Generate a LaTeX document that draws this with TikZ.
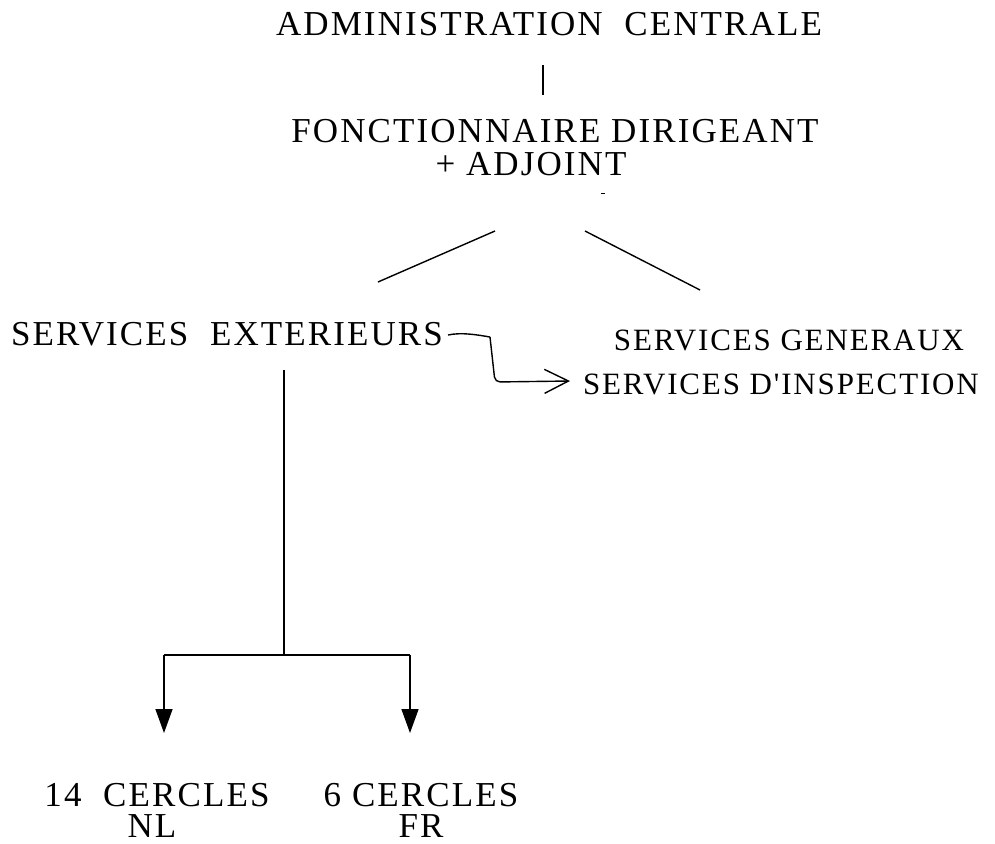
\documentclass[tikz,border=0pt]{standalone}
\usepackage{fontspec}
\setmainfont{Liberation Serif}
\newfontfamily\spfont[LetterSpace=6]{Liberation Serif}
\usetikzlibrary{arrows.meta}
\tikzset{
  lbl/.style={anchor=base, inner sep=0pt, text height=24pt, text depth=0pt, font=\spfont\fontsize{35}{40}\selectfont},
  lbls/.style={anchor=base, inner sep=0pt, text height=22pt, text depth=0pt, font=\spfont\fontsize{31}{36}\selectfont},
  lbl2/.style={anchor=north, inner sep=0pt, align=center, font=\spfont\fontsize{35}{31}\selectfont},
  ln/.style={line width=1.4pt, black},
  filled/.style={ln, -{Triangle[width=17pt,length=24pt]}},
  openv/.style={ln, -{Straight Barb[length=24pt,width=24pt,line width=1.4pt]}}
}
\begin{document}
\begin{tikzpicture}[x=1pt,y=-1pt]
\useasboundingbox (0,0) rectangle (995,843);
\node[lbl] (admin) at (549,36) {ADMINISTRATION\ \ CENTRALE};
\node[lbl] (fonct) at (555,142) {FONCTIONNAIRE DIRIGEANT};
\node[lbl] (adj) at (531,175) {+ ADJOINT};
\coordinate (dash1) at (601,193);
\coordinate (dash2) at (605,193);
\draw[line width=1pt] (dash1) -- (dash2);
\coordinate (v1) at (543,65);
\coordinate (v2) at (543,95);
\draw[ln] (v1) -- (v2);
\coordinate (dl1) at (495,231);
\coordinate (dl2) at (378,282);
\coordinate (dr1) at (585,231);
\coordinate (dr2) at (700,290);
\draw[ln] (dl1) -- (dl2);
\draw[ln] (dr1) -- (dr2);
\node[lbl] (ext) at (227,345) {SERVICES\ \ EXTERIEURS};
\node[lbls] (gen) at (789,350) {SERVICES GENERAUX};
\node[lbls] (insp) at (781,394) {SERVICES D'INSPECTION};
\coordinate (c1) at (448,335);
\coordinate (c2) at (490,337);
\coordinate (c3) at (495,382);
\coordinate (c4) at (570,381);
\draw[ln] (c1) .. controls (462,332) and (478,335) .. (c2);
\draw[openv, rounded corners=5pt] (c2) -- (c3) -- (c4);
\coordinate (t1) at (284,370);
\coordinate (t2) at (284,655);
\coordinate (hl) at (164,655);
\coordinate (hr) at (410,655);
\draw[ln] (t1) -- (t2);
\draw[ln] (hl) -- (hr);
\node[lbl2] (nl) at (157,783) {14\ \ CERCLES\\\hspace*{-10pt}NL};
\node[lbl2] (fr) at (421,783) {6 CERCLES\\FR};
\coordinate (al) at (164,733);
\coordinate (ar) at (410,733);
\draw[filled] (hl) -- (al);
\draw[filled] (hr) -- (ar);
\end{tikzpicture}
\end{document}
